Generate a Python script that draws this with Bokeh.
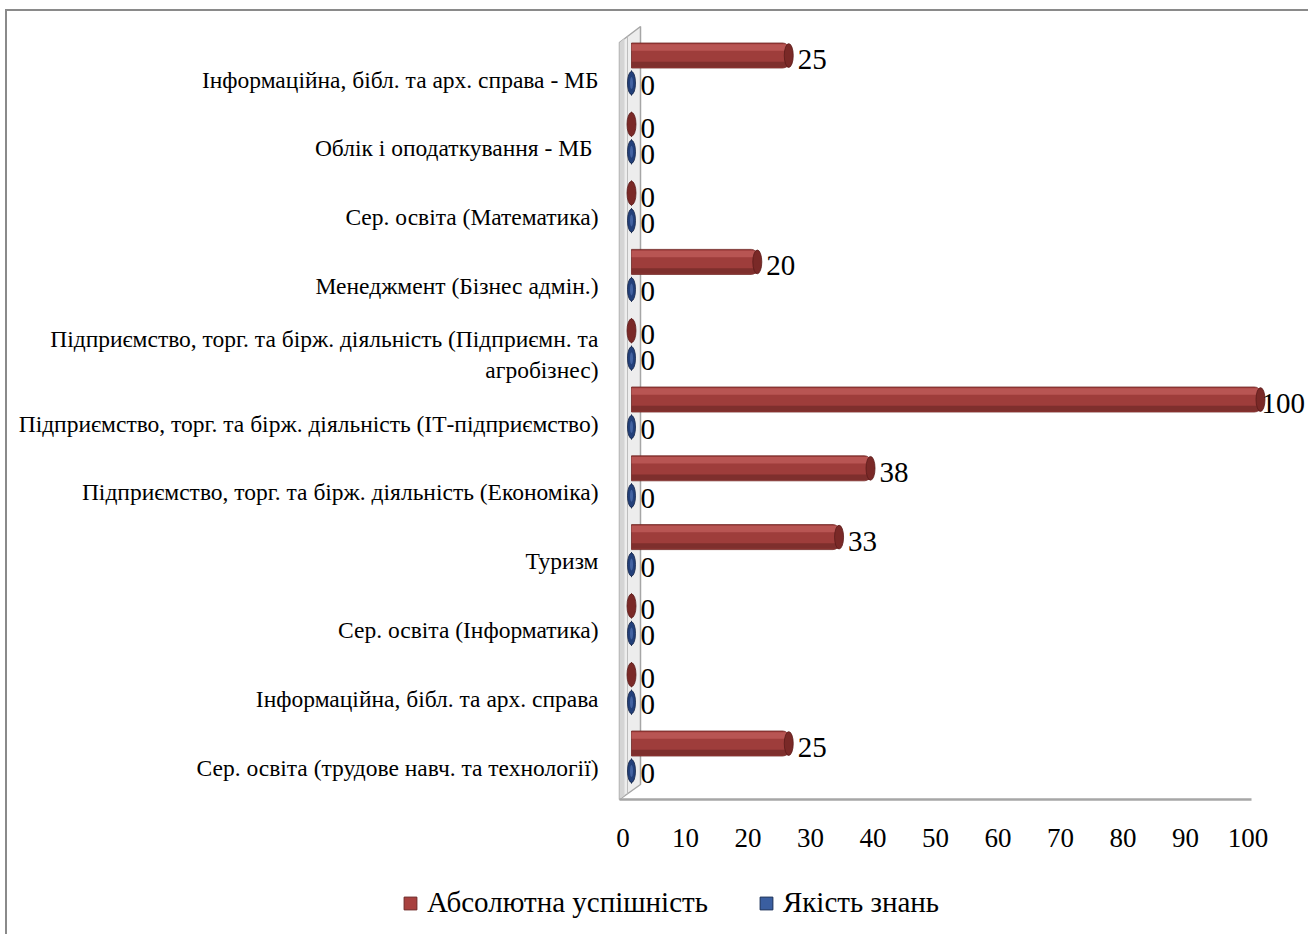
from bokeh.plotting import figure
from bokeh.layouts import column
from bokeh.models import Range1d, FixedTicker, Legend, LegendItem, ColumnDataSource
from bokeh.core.properties import value
from bokeh.embed import file_html
from bokeh.resources import INLINE

# ---------------- data ----------------
categories = [
    "Інформаційна, бібл. та арх. справа - МБ",
    "Облік і  оподаткування - МБ",
    "Сер. освіта (Математика)",
    "Менеджмент (Бізнес адмін.)",
    "Підприємство, торг. та бірж. діяльність (Підприємн. та\nагробізнес)",
    "Підприємство, торг. та бірж. діяльність (ІТ-підприємство)",
    "Підприємство, торг. та бірж. діяльність (Економіка)",
    "Туризм",
    "Сер. освіта (Інформатика)",
    "Інформаційна, бібл. та арх. справа",
    "Сер. освіта (трудове навч. та технології)",
]
absolute = [25, 0, 0, 20, 0, 100, 38, 33, 0, 0, 25]
quality = [0, 0, 0, 0, 0, 0, 0, 0, 0, 0, 0]
series_names = ["Абсолютна успішність", "Якість знань"]
x_ticks = [0, 10, 20, 30, 40, 50, 60, 70, 80, 90, 100]

# ---------------- geometry (page pixels) ----------------
OX, OY = 8, 12          # canvas origin on the page
W = 1309 - OX
SPLIT = 870             # page y where the legend strip starts
H1 = SPLIT - OY
H2 = 935 - SPLIT
FL, FR, FT, FB = 607, 1309, 20, 812
X0, XK = 623.5, 6.25    # axis scale: page x of 0, px per unit
B0, BK = 632, 6.29      # bars (depth-shifted)
Y0, YK = 80, 68.8       # category rows


def tx(px):
    return (px - X0) / XK


def bx(px):
    return (px - B0) / BK


def ry(py):
    return (py - Y0) / YK


FONT = "Liberation Serif"
RED, RED_EDGE = "#9e3d3b", "#6e2725"
BLUE, BLUE_EDGE = "#2c4d87", "#1a2f57"

p = figure(width=W, height=H1, output_backend="svg", toolbar_location=None,
           x_range=Range1d(tx(FL), tx(FR)), y_range=Range1d(ry(FB), ry(FT)),
           min_border_left=FL - OX, min_border_right=1309 - FR,
           min_border_top=FT - OY, min_border_bottom=SPLIT - FB)
p.frame_align = False
p.extra_x_ranges = {"bars": Range1d(bx(FL), bx(FR))}
p.outline_line_color = None
p.xgrid.visible = False
p.ygrid.visible = False
p.background_fill_color = "white"
p.border_fill_color = "white"

# ---- wall & floor ----
p.patch([tx(620), tx(620), tx(641), tx(641)], [ry(800), ry(43), ry(27), ry(785)],
        fill_color="#ededed", line_color="#a6a6a6", line_width=1.5)
p.patch([tx(620), tx(620), tx(625), tx(625)], [ry(800), ry(43), ry(39), ry(796)],
        fill_color="#d4d4d4", line_color=None)
p.line([tx(628), tx(628)], [ry(37), ry(794)], line_color="#bdbdbd", line_width=1)
p.line([tx(620), tx(1252)], [ry(800), ry(800)], line_color="#a6a6a6", line_width=2.5)

# ---- bars ----
rows = list(range(len(categories)))
red_off = ry(56)
blue_off = ry(83.5)
bh = 25 / YK

red_y = [r + red_off for r in rows]
blue_y = [r + blue_off for r in rows]
zeros = [0] * len(rows)

src_r = ColumnDataSource(dict(y=red_y, v=absolute, l=zeros))
src_b = ColumnDataSource(dict(y=blue_y, v=quality, l=zeros))

p.hbar(y="y", left="l", right="v", height=bh, source=src_r, x_range_name="bars",
       fill_color=RED, line_color=RED_EDGE, line_width=0.8, border_radius=(0, 6, 6, 0))
p.hbar(y="y", left="l", right="v", height=bh * 0.26, source=ColumnDataSource(dict(
    y=[y - bh * 0.32 for y in red_y], v=absolute, l=zeros)),
    x_range_name="bars", fill_color="#b85553", line_color=None)
p.hbar(y="y", left="l", right="v", height=bh * 0.22, source=ColumnDataSource(dict(
    y=[y + bh * 0.36 for y in red_y], v=absolute, l=zeros)),
    x_range_name="bars", fill_color="#7e2f2d", line_color=None)
p.ellipse(x="v", y="y", width=9, height=bh * 0.95, width_units="screen", source=src_r,
          x_range_name="bars", fill_color="#7a2927", line_color="#5c1c1b", line_width=0.8)

p.hbar(y="y", left="l", right="v", height=bh, source=src_b, x_range_name="bars",
       fill_color=BLUE, line_color=BLUE_EDGE, line_width=0.8)
p.ellipse(x="v", y="y", width=8, height=23 / YK, width_units="screen", source=src_b,
          x_range_name="bars", fill_color="#23407a", line_color="#142548", line_width=0.8)
p.ellipse(x="v", y="y", width=3, height=12 / YK, width_units="screen", source=src_b,
          x_range_name="bars", fill_color="#5a7cbc", line_color=None, fill_alpha=0.6)

# ---- data labels ----
lbl_r = ColumnDataSource(dict(x=absolute, y=[r + ry(60) for r in rows],
                              t=[str(v) for v in absolute],
                              dx=[1 if v >= 100 else 9 for v in absolute]))
lbl_b = ColumnDataSource(dict(x=quality, y=[r + ry(86) for r in rows],
                              t=[str(v) for v in quality],
                              dx=[1 if v >= 100 else 9 for v in quality]))
for s in (lbl_r, lbl_b):
    p.text(x="x", y="y", text="t", x_offset="dx", source=s, x_range_name="bars",
           text_font=value(FONT), text_font_size="29px", text_color="#000000",
           text_align="left", text_baseline="middle")

# ---- axes ----
xa = p.xaxis[0]
xa.ticker = FixedTicker(ticks=x_ticks)
xa.axis_line_color = None
xa.major_tick_line_color = None
xa.minor_tick_line_color = None
xa.major_label_text_font = FONT
xa.major_label_text_font_size = "27px"
xa.major_label_text_color = "#000000"
xa.major_label_standoff = 11

ya = p.yaxis[0]
ya.ticker = FixedTicker(ticks=rows)
ya.major_label_overrides = {r: c for r, c in zip(rows, categories)}
ya.axis_line_color = None
ya.major_tick_line_color = None
ya.minor_tick_line_color = None
ya.major_label_text_font = FONT
ya.major_label_text_font_size = "23.5px"
ya.major_label_text_color = "#000000"
ya.major_label_standoff = 2

# ---- legend strip ----
q = figure(width=W, height=H2, output_backend="svg", toolbar_location=None,
           x_range=Range1d(0, 1), y_range=Range1d(0, 1),
           min_border_left=0, min_border_right=0, min_border_top=0, min_border_bottom=0)
q.frame_align = False
q.axis.visible = False
q.grid.visible = False
q.outline_line_color = None
q.background_fill_color = "white"
q.border_fill_color = "white"
# legend swatches use the series data placed outside the visible range
lr = q.hbar(y=[-5] * len(absolute), left=zeros, right=absolute, height=0.5,
            fill_color="#a8413f", line_color=RED_EDGE, line_width=1)
lb = q.hbar(y=[-5] * len(quality), left=zeros, right=quality, height=0.5,
            fill_color="#3a5ea0", line_color=BLUE_EDGE, line_width=1)
legend = Legend(items=[LegendItem(label=series_names[0], renderers=[lr]),
                       LegendItem(label=series_names[1], renderers=[lb])],
                orientation="horizontal", location=(403 - OX, 15),
                border_line_color=None, background_fill_alpha=0,
                label_text_font=FONT, label_text_font_size="29px",
                label_text_color="#000000",
                glyph_width=16, glyph_height=16, label_standoff=9, spacing=50,
                padding=0, margin=0)
q.add_layout(legend)

layout = column(p, q, spacing=0)
layout.styles = {"margin-left": "5px", "margin-top": "9px",
                 "border-left": "2px solid #8a8a8a", "border-top": "2px solid #8a8a8a"}

open("out.html", "w").write(file_html(layout, INLINE))
